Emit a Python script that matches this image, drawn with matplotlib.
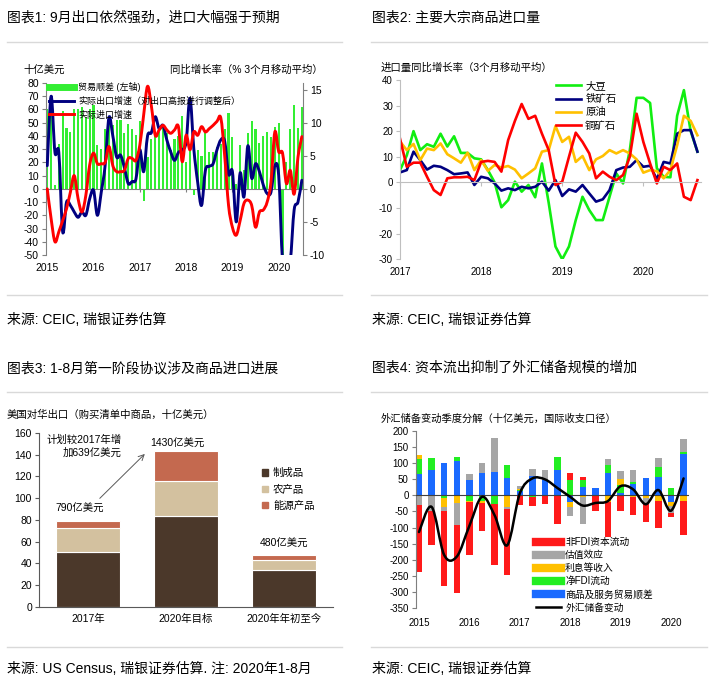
import matplotlib
matplotlib.use("Agg")
import matplotlib.pyplot as plt
from matplotlib.lines import Line2D
from matplotlib.patches import Patch, PathPatch
from matplotlib.path import Path
import numpy as np

plt.rcParams['font.family'] = ['Liberation Sans', 'Noto Sans CJK SC']
plt.rcParams['axes.unicode_minus'] = False

# ---- panel 1: monthly, Jan 2015 - Jul 2020 ----
trade_bal = [60, 60, 3, 34, 59, 46, 43, 60, 60, 62, 54, 60,
             63, 33, 30, 45, 50, 48, 52, 52, 42, 49, 45, 41,
             51, -9, 24, 38, 41, 43, 47, 42, 29, 38, 40, 55,
             20, 34, -5, 29, 25, 42, 28, 28, 32, 34, 45, 57,
             39, 4, 33, 14, 42, 51, 45, 35, 40, 43, 39, 47,
             50, -50, 20, 45, 63, 46, 62]
exp_growth = [3.5, 14, 5.5, 5.5, -6.5, -2, -2.5, -3.5, -4.3, -3.5, -4, -1.5,
              -0.2, -4, -0.5, 3.5, 10.8, 8, 4.8, 5.1, 3.2, 0.8, 1.1, 1.5,
              5.9, 2.6, 8, 8.5, 10.9, 9.1, 9.6, 7.4, 5.6, 4.3, 5.5, 5.9,
              7.1, 13.7, 6, 1, -2.5, 2.8, 3.4, 3.8, 5.9, 7.4, 7.2, 2.2,
              2.6, -5, 2.4, -1.2, 6.5, 1.6, 3.8, 2.6, 0.6, -0.7, -0.5, 3.5,
              2, -11, -13, -11, -3.2, -2, 1.3]
imp_growth = [0, -4.5, -8, -6.5, -4.8, -3, -0.5, 2, -1.5, -3.5, -1, 3.6,
              5.4, 3.8, 3.8, 4, 6.4, 3.5, 2.6, 2.6, 2.8, 4.6, 4.6, 4.3,
              6.6, 11.2, 15.5, 12.5, 8.1, 8.9, 9.6, 8.9, 8.4, 8.9, 9.4, 4.1,
              8.1, 5.9, 8.6, 8.1, 9.4, 8.6, 9.1, 9.6, 10.2, 10.7, 5, -2.5,
              -5.8, -7, -4.8, -2.2, -1.7, -2.5, -5.8, -3.5, -3.2, -2, 1, 8.6,
              5.6, 5.4, 0.8, 2.8, -0.8, 4.8, 7.9]
years1 = ["2015", "2016", "2017", "2018", "2019", "2020"]

# ---- panel 2: monthly, Jan 2017 - Sep 2020 ----
soy = [4.8, 10.5, 20, 12.6, 14.9, 13.9, 19, 14, 18, 11.5, 11.5, 9.4, 9, 4.8, 0,
       -9.7, -6.9, 0.3, -3.6, -1, -5.8, 7.4, -8, -25, -30, -25, -14.7, -5.6, -10.8,
       -14.7, -14.7, -5.6, 3.5, -0.4, 12.6, 33, 33, 31, 5.5, 2.2, 2, 26, 36, 20, 12]
iron = [3.9, 4.8, 12, 8.7, 5, 6.5, 6.1, 4.8, 3.2, 3.5, 3.9, -1, 2.2, 1.6, -0.4,
        -3.2, -2.3, -3, -1.7, -2.3, -1.7, 0.3, -3.2, 0.9, -5.3, -2.7, -3.6, -1, -4.3,
        -7.5, -6.6, -3, 4.8, 5.8, 6.1, 8.7, 6.1, 6.5, 1.2, 8, 7.4, 19, 20.4, 20.4, 12]
oil = [16, 12.6, 15, 8.7, 13.2, 12.6, 15.2, 11, 9.4, 7.7, 11.6, 4.8, 8.7, 4.5, 6.8,
       5.8, 6.4, 5, 1.6, 3.5, 5.5, 12, 12.6, 22, 15.8, 17.8, 8, 10.3, 4.8,
       9, 10.3, 12.6, 11.3, 12.6, 11.3, 9, 3.8, 4.8, 4.4, 1.6, 4.8, 14.5, 26, 24, 18.4]
copper = [17.1, 6.1, 7.7, 7.7, 2.2, -3, -4.9, 1.6, 2, 2, 2.2, 0.9, 8, 8.4, 8,
          4.2, 16.5, 24, 30.6, 24.8, 26, 19, 12.6, -1, 0.3, 10, 19.4, 15.8, 11.3,
          1.6, 4.2, 2.2, 0.9, 2.9, 10, 26.8, 15.8, 7.4, -0.4, 6.1, 4.8, 7.4, -5.6, -6.9, 0.9]
years2 = ["2017", "2018", "2019", "2020"]

# ---- panel 3 ----
cats3 = ["2017年", "2020年目标", "2020年年初至今"]
manuf = [50.6, 83.9, 33.8]
agri = [21.6, 32.2, 9.2]
energy = [6.8, 26.9, 5.0]
totals3 = ["790亿美元", "1430亿美元", "480亿美元"]

# ---- panel 4: quarterly, Q1 2015 - Q2 2020 ----
trade_q = [67, 78, 100, 107, 47, 70, 71, 52, 12, 58, 48, 78, -20, 25, 22, 70, 8, 34, 53, 57, -20, 128]
fdi_q = [44, 36, -8, 12, -18, -18, -27, 40, 5, -5, 0, 39, 47, 22, -3, 22, 25, 8, 0, 30, 22, 5]
income_q = [13, -3, -27, -25, -4, -6, 0, -38, 3, 0, -3, -3, -17, -5, 0, -20, 17, -7, -10, -18, -12, -18]
valuation_q = [-31, -47, -15, -67, 20, 30, 106, -5, 8, 22, 31, 0, -28, -83, 0, 20, 25, 35, -16, 28, -22, 42]
nonfdi_q = [-207, -105, -232, -211, -163, -86, -188, -205, -31, -28, -25, -85, 23, 10, -45, -108,
            -50, -53, -57, -82, -14, -104]
reserves_q = [-114, -36, -185, -190, -95, -5, -62, -155, 5, 52, 49, 22, -5, -32, -24, -18,
              28, 18, -28, 16, -48, 52]
years4 = ["2015", "2016", "2017", "2018", "2019", "2020"]


def smooth_line(ax, x, y, **kw):
    # draw a curve through the points with bezier segments (like "smoothed line" in Excel)
    pts = np.column_stack([x, y]).astype(float)
    n = len(pts)
    verts = [pts[0]]; codes = [Path.MOVETO]
    for i in range(n - 1):
        p0 = pts[i - 1] if i > 0 else pts[i]
        p3 = pts[i + 2] if i + 2 < n else pts[i + 1]
        verts += [pts[i] + (pts[i + 1] - p0) / 6, pts[i + 1] - (p3 - pts[i]) / 6, pts[i + 1]]
        codes += [Path.CURVE4] * 3
    ax.add_patch(PathPatch(Path(verts, codes), fill=False, capstyle="round", joinstyle="round", **kw))


W, H = 709, 686
fig = plt.figure(figsize=(W / 100, H / 100), dpi=100)
fx = lambda px: px / W
fy = lambda py: 1 - py / H
def axes_px(l, t, r, b):
    return fig.add_axes([fx(l), fy(b), (r - l) / W, (b - t) / H])

GRID = "#d9d9d9"
for y in (42, 294.5, 392, 646.5):
    fig.add_artist(Line2D([fx(7), fx(342)], [fy(y)] * 2, color=GRID, lw=1))
    fig.add_artist(Line2D([fx(371), fx(707)], [fy(y)] * 2, color=GRID, lw=1))

TF = 10
fig.text(fx(7), fy(18), "图表1: 9月出口依然强劲，进口大幅强于预期", fontsize=TF, va="center")
fig.text(fx(372), fy(18), "图表2: 主要大宗商品进口量", fontsize=TF, va="center")
fig.text(fx(7), fy(368), "图表3: 1-8月第一阶段协议涉及商品进口进展", fontsize=TF, va="center")
fig.text(fx(372), fy(368), "图表4: 资本流出抑制了外汇储备规模的增加", fontsize=TF, va="center")
fig.text(fx(7), fy(320), "来源: CEIC, 瑞银证券估算", fontsize=TF, va="center")
fig.text(fx(372), fy(320), "来源: CEIC, 瑞银证券估算", fontsize=TF, va="center")
fig.text(fx(7), fy(669), "来源: US Census, 瑞银证券估算. 注: 2020年1-8月", fontsize=TF, va="center")
fig.text(fx(372), fy(669), "来源: CEIC, 瑞银证券估算", fontsize=TF, va="center")

# ================= panel 1 =================
GREEN1 = "#33ee33"; NAVY = "#000080"; RED = "#ff0000"
ax1 = axes_px(45.7, 83, 303, 255)
m1 = np.arange(len(trade_bal))
ax1.bar(m1, trade_bal, width=0.55, color=GREEN1, zorder=1)
ax1.set_xlim(-0.4, 66.3)
ax1.set_ylim(-50, 80)
ax1.set_yticks(range(-50, 81, 10))
for s in ("top", "right"):
    ax1.spines[s].set_visible(False)
ax1.spines["left"].set_color("#808080")
ax1.spines["bottom"].set_position(("data", 0))
ax1.spines["bottom"].set_color("#808080")
ax1.set_xticks(m1[::12])
ax1.tick_params(axis="x", length=2.5, color="#808080", labelbottom=False)
ax1.tick_params(axis="y", length=3, color="#808080", labelsize=7.5, pad=2)
for m, yr in zip(m1[::12], years1):
    ax1.text(m, -0.075, yr, transform=ax1.get_xaxis_transform(), ha="center", va="center", fontsize=7.5)

ax1b = ax1.twinx()
smooth_line(ax1b, m1, exp_growth, edgecolor=NAVY, lw=2.1)
smooth_line(ax1b, m1, imp_growth, edgecolor=RED, lw=2.1)
ax1b.set_xlim(-0.4, 66.3)
ax1b.set_ylim(-10, 16)
ax1b.set_yticks(range(-10, 16, 5))
for s in ("top", "left", "bottom"):
    ax1b.spines[s].set_visible(False)
ax1b.spines["right"].set_color("#808080")
ax1b.tick_params(axis="y", length=3, color="#808080", labelsize=7.5, pad=2)
ax1b.legend(handles=[Line2D([], [], color=GREEN1, lw=5),
                     Line2D([], [], color=NAVY, lw=2.1),
                     Line2D([], [], color=RED, lw=2.1)],
            labels=["贸易顺差 (左轴)", "实际出口增速（对出口高报进行调整后）", "实际进口增速"],
            loc="upper left", bbox_to_anchor=(fx(49), fy(82)), bbox_transform=fig.transFigure,
            frameon=False, fontsize=6.5, handlelength=2.8, handletextpad=0.4,
            labelspacing=0.5, borderpad=0, borderaxespad=0)
fig.text(fx(23), fy(70), "十亿美元", fontsize=7.5, va="center")
fig.text(fx(323), fy(70), "同比增长率（% 3个月移动平均）", fontsize=7.5, va="center", ha="right")

# ================= panel 2 =================
ax2 = axes_px(400, 79.9, 700.8, 259.3)
m2 = np.arange(len(soy))
ax2.plot(m2, soy, color="#11ee11", lw=1.9, label="大豆")
ax2.plot(m2, iron, color=NAVY, lw=1.9, label="铁矿石")
ax2.plot(m2, oil, color="#ffc000", lw=1.9, label="原油")
ax2.plot(m2, copper, color=RED, lw=1.9, label="铜矿石")
ax2.set_xlim(0, 44.5)
ax2.set_ylim(-30, 40)
ax2.set_yticks(range(-30, 41, 10))
for s in ("top", "right"):
    ax2.spines[s].set_visible(False)
ax2.spines["left"].set_color("#bfbfbf")
ax2.spines["bottom"].set_position(("data", 0))
ax2.spines["bottom"].set_color("#bfbfbf")
ax2.set_xticks(m2[::12])
ax2.tick_params(axis="x", length=3, color="#bfbfbf", labelbottom=False)
ax2.tick_params(axis="y", length=3, color="#bfbfbf", labelsize=7, pad=2)
for m, yr in zip(m2[::12], years2):
    ax2.text(m, -0.071, yr, transform=ax2.get_xaxis_transform(), ha="center", va="center", fontsize=7)
ax2.legend(loc="upper left", bbox_to_anchor=(fx(556), fy(81)), bbox_transform=fig.transFigure,
           frameon=False, fontsize=7.5, handlelength=2.4, handletextpad=0.4,
           labelspacing=0.3, borderpad=0, borderaxespad=0)
fig.text(fx(381), fy(68), "进口量同比增长率（3个月移动平均）", fontsize=7.5, va="center")

# ================= panel 3 =================
C_MAN = "#4b382a"; C_AGR = "#d3c19f"; C_ENE = "#c4694f"
ax3 = axes_px(39, 433, 333, 606.7)
x3 = np.arange(len(cats3))
man = np.array(manuf); agr = np.array(agri); ene = np.array(energy)
ax3.bar(x3, man, 0.66, color=C_MAN, edgecolor="white", lw=0.8)
ax3.bar(x3, agr, 0.66, bottom=man, color=C_AGR, edgecolor="white", lw=0.8)
ax3.bar(x3, ene, 0.66, bottom=man + agr, color=C_ENE, edgecolor="white", lw=0.8)
ax3.set_xlim(-0.5, 2.5)
ax3.set_ylim(0, 160)
ax3.set_yticks(range(0, 161, 20))
ax3.set_xticks(x3)
ax3.set_xticklabels(cats3)
for s in ("top", "right"):
    ax3.spines[s].set_visible(False)
ax3.spines["left"].set_color("#595959")
ax3.spines["bottom"].set_color("#595959")
ax3.tick_params(axis="x", length=0, labelsize=7.5, pad=5)
ax3.tick_params(axis="y", length=3, color="#595959", labelsize=7.5, pad=2)
tot = man + agr + ene
ax3.text(x3[0] - 0.08, tot[0] + 11, totals3[0], ha="center", va="center", fontsize=7.5)
ax3.text(x3[1] - 0.09, tot[1] + 7, totals3[1], ha="center", va="center", fontsize=7.5)
ax3.text(x3[2], tot[2] + 10, totals3[2], ha="center", va="center", fontsize=7.5)
ax3.text(x3[0] + 0.34, 148, "计划较2017年增\n加639亿美元", ha="right", va="center",
         multialignment="right", fontsize=7.5, linespacing=1.3)
ax3.annotate("", xy=(x3[1] - 0.4, 142.5), xytext=(x3[0] + 0.1, 98),
             arrowprops=dict(arrowstyle="->", color="#595959", lw=0.7))
ax3.legend(handles=[Patch(color=C_MAN), Patch(color=C_AGR), Patch(color=C_ENE)],
           labels=["制成品", "农产品", "能源产品"],
           loc="upper left", bbox_to_anchor=(fx(262), fy(468)), bbox_transform=fig.transFigure,
           frameon=False, fontsize=7.5, handlelength=0.55, handleheight=0.55, handletextpad=0.5,
           labelspacing=0.6, borderpad=0, borderaxespad=0)
fig.text(fx(7), fy(415), "美国对华出口（购买清单中商品，十亿美元）", fontsize=7.5, va="center")

# ================= panel 4 =================
comps = [(trade_q, "#1a6aff", "商品及服务贸易顺差"),
         (fdi_q, "#22ee22", "净FDI流动"),
         (income_q, "#ffc000", "利息等收入"),
         (valuation_q, "#a6a6a6", "估值效应"),
         (nonfdi_q, "#ff1a1a", "非FDI资本流动")]
ax4 = axes_px(415.7, 430.6, 688.6, 608.3)
q = np.arange(len(trade_q))
pos = np.zeros(len(q)); neg = np.zeros(len(q))
for vals, col, lab in comps:
    v = np.array(vals, dtype=float)
    base = np.where(v >= 0, pos, neg)
    ax4.bar(q, v, 0.5, bottom=base, color=col, zorder=2)
    pos = pos + np.clip(v, 0, None)
    neg = neg + np.clip(v, None, 0)
ax4.axhline(0, color="#404040", lw=0.8, zorder=3)
smooth_line(ax4, q, reserves_q, edgecolor="black", lw=1.8, zorder=4)
ax4.set_xlim(-0.26, 21.4)
ax4.set_ylim(-350, 200)
ax4.set_yticks(range(-350, 201, 50))
ax4.set_xticks(q[::4])
ax4.set_xticklabels(years4)
for s in ("top", "right", "bottom"):
    ax4.spines[s].set_visible(False)
ax4.spines["left"].set_color("#7f7f7f")
ax4.tick_params(axis="x", length=0, labelsize=7, pad=7)
ax4.tick_params(axis="y", length=3, color="#7f7f7f", labelsize=7, pad=2)
leg_h = [Line2D([], [], color=c, lw=6) for _, c, _ in comps[::-1]] + [Line2D([], [], color="black", lw=1.8)]
leg_l = [lab for _, _, lab in comps[::-1]] + ["外汇储备变动"]
ax4.legend(handles=leg_h, labels=leg_l, loc="upper left", bbox_to_anchor=(fx(536), fy(537)),
           bbox_transform=fig.transFigure, frameon=False, fontsize=7, handlelength=2.6,
           handletextpad=0.4, labelspacing=0.32, borderpad=0, borderaxespad=0)
fig.text(fx(381), fy(419), "外汇储备变动季度分解（十亿美元，国际收支口径）", fontsize=7.4, va="center")

fig.savefig("out.png", dpi=100)
